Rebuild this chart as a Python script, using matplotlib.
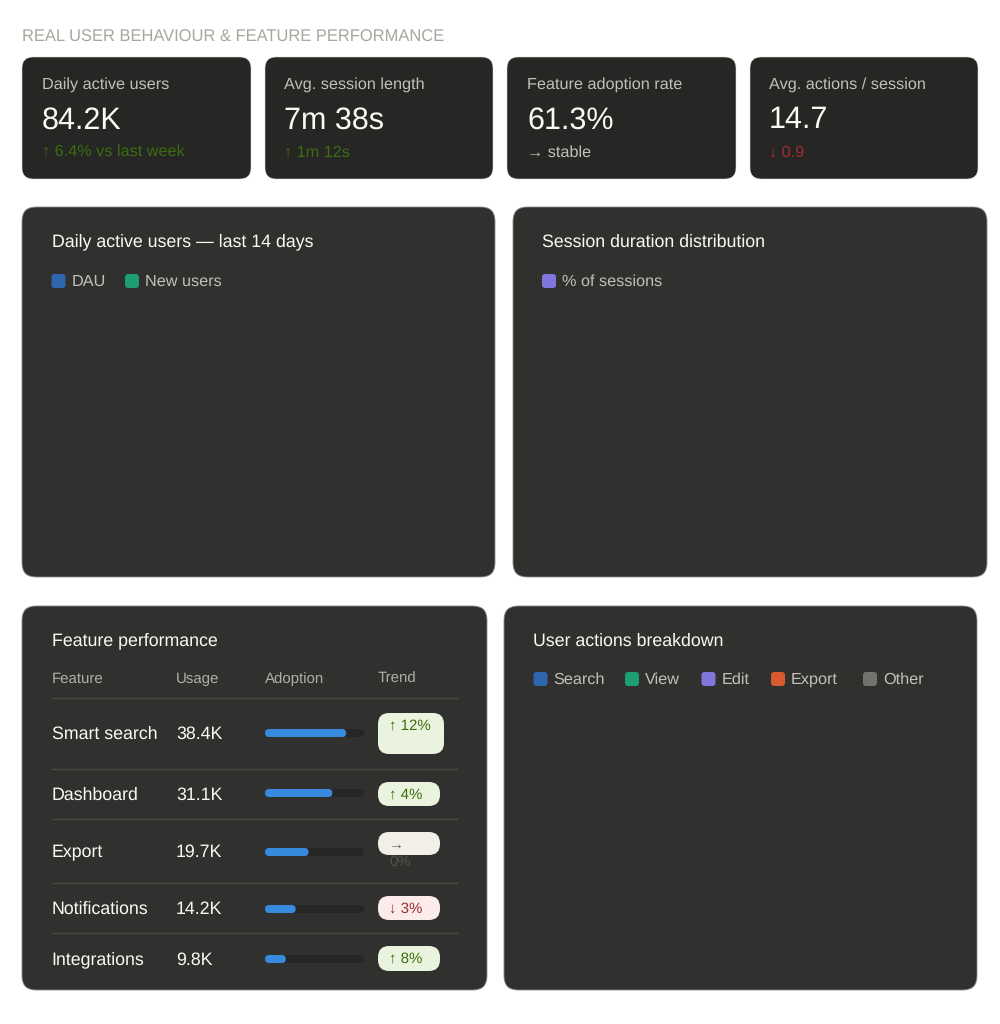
import matplotlib
matplotlib.use("Agg")
import matplotlib.pyplot as plt
from matplotlib.patches import FancyBboxPatch

plt.rcParams['font.family'] = ['Liberation Sans', 'DejaVu Sans']
plt.rcParams['text.hinting'] = 'no_hinting'
plt.rcParams['text.hinting_factor'] = 8

PAGE_TITLE = "REAL USER BEHAVIOUR & FEATURE PERFORMANCE"
kpi_labels = ["Daily active users", "Avg. session length", "Feature adoption rate", "Avg. actions / session"]
kpi_values = ["84.2K", "7m 38s", "61.3%", "14.7"]
kpi_notes = ["↑ 6.4% vs last week", "↑ 1m 12s", "→ stable", "↓ 0.9"]
kpi_note_kinds = ["up", "up", "flat", "down"]
features = ["Smart search", "Dashboard", "Export", "Notifications", "Integrations"]
usage = ["38.4K", "31.1K", "19.7K", "14.2K", "9.8K"]
adoption = [82, 68, 44, 31, 21]
trend = ["↑ 12%", "↑ 4%", "→\n0%", "↓ 3%", "↑ 8%"]
trend_kinds = ["up", "up", "flat", "down", "up"]
table_headers = ["Feature", "Usage", "Adoption", "Trend"]

CARD, PANEL = "#262624", "#30302E"
WHITE, MUTED = "#FAF9F5", "#C2C0B6"
NOTE = {"up": "#3B6D11", "down": "#A32D2D", "flat": "#C2C0B6"}
BADGE_BG = {"up": "#EAF3DE", "down": "#FCEBEB", "flat": "#F1EFE8"}
BADGE_FG = {"up": "#3B6D11", "down": "#A32D2D", "flat": "#5F5E5A"}

fig = plt.figure(figsize=(10, 10.24), dpi=100, facecolor="white")
ax = fig.add_axes([0, 0, 1, 1])
ax.set_xlim(0, 1000)
ax.set_ylim(1024, 0)
ax.axis("off")


def rrect(x0, y0, x1, y1, r, fc, ec="none", lw=0, z=1):
    r = min(r, (x1 - x0) / 2, (y1 - y0) / 2)
    ax.add_patch(FancyBboxPatch((x0 + r, y0 + r), x1 - x0 - 2 * r, y1 - y0 - 2 * r,
                                boxstyle=f"round,pad={r},rounding_size={r}",
                                fc=fc, ec=ec, lw=lw, zorder=z))


def txt(x, y, s, size, color, z=5, **kw):
    ax.text(x, y, s, fontsize=size, color=color, va="baseline", ha="left", zorder=z, **kw)


txt(22, 42, PAGE_TITLE, 11.9, "#A8A69D")

kpi_x = [(22, 251), (265, 493), (507, 736), (750, 978)]
kpi_text_x = [42, 284, 527, 769]
for (x0, x1), tx, lab, val, note, kind in zip(kpi_x, kpi_text_x, kpi_labels, kpi_values, kpi_notes, kpi_note_kinds):
    rrect(x0, 57, x1, 179, 11, CARD, "#DAD8D0", 0.4)
    txt(tx, 88.5, lab, 11.7, MUTED)
    txt(tx, 128.5, val, 22, WHITE)
    txt(tx, 156.6, note, 11.7, NOTE[kind])

panels = [(22, 207, 495, 577), (513, 207, 987, 577), (22, 606, 487, 990), (504, 606, 977, 990)]
for x0, y0, x1, y1 in panels:
    rrect(x0, y0, x1, y1, 14, PANEL, "#8A8985", 0.6)

txt(51.5, 246.5, "Daily active users — last 14 days", 12.8, WHITE)
txt(542, 246.5, "Session duration distribution", 12.8, WHITE)
txt(51.5, 645.5, "Feature performance", 12.8, WHITE)
txt(533, 645.5, "User actions breakdown", 12.8, WHITE)

legends = [
    (286.5, [("DAU", 51.5, "#2F66B0"), ("New users", 125, "#1D9E75")]),
    (286.5, [("% of sessions", 542, "#7F77DD")]),
    (684.5, [("Search", 533.5, "#2F66B0"), ("View", 625, "#1D9E75"), ("Edit", 701.5, "#7F77DD"),
             ("Export", 771, "#D85A30"), ("Other", 863, "#73726C")]),
]
for base, items in legends:
    for name, x, col in items:
        rrect(x, base - 12.5, x + 14, base + 1.5, 3, col)
        txt(x + 20, base - 1, name, 11.7, MUTED)

col_x = [51.5, 176, 265, 378]
for x, h in zip(col_x, table_headers):
    txt(x, 683, h, 10.8, "#B0AEA5")

for y in [698, 769, 819, 883, 933]:
    ax.plot([51.5, 458], [y, y], color="#4A4A47", lw=1, solid_capstyle="butt", zorder=2)

row_base = [738.5, 799.5, 856.8, 913.5, 964.5]
row_mid = [733, 793, 852, 909, 959]
badge_box = [(378, 444, 713, 754), (378, 440, 782, 806), (378, 440, 832, 855),
             (378, 440, 896, 920), (378, 440, 946, 971)]
badge_base = [729.5, 798.5, 849, 913, 962.5]
TRACK_X, TRACK_W = 265, 99
for i, name in enumerate(features):
    txt(51.5, row_base[i], name, 12.8, WHITE)
    txt(176, row_base[i], usage[i], 12.8, WHITE)
    rrect(TRACK_X, row_mid[i] - 4, TRACK_X + TRACK_W, row_mid[i] + 4, 4, "#262624", z=3)
    rrect(TRACK_X, row_mid[i] - 4, TRACK_X + TRACK_W * adoption[i] / 100, row_mid[i] + 4, 4, "#378ADD", z=4)
    kind = trend_kinds[i]
    x0, x1, y0, y1 = badge_box[i]
    rrect(x0, y0, x1, y1, 11, BADGE_BG[kind], z=3)
    parts = trend[i].split("\n")
    txt(389, badge_base[i], parts[0], 10.8, BADGE_FG[kind])
    if len(parts) > 1:
        txt(389, badge_base[i] + 17, parts[1], 10.8, BADGE_FG[kind], alpha=0.75)

fig.savefig("out.png", dpi=100, facecolor="white")
